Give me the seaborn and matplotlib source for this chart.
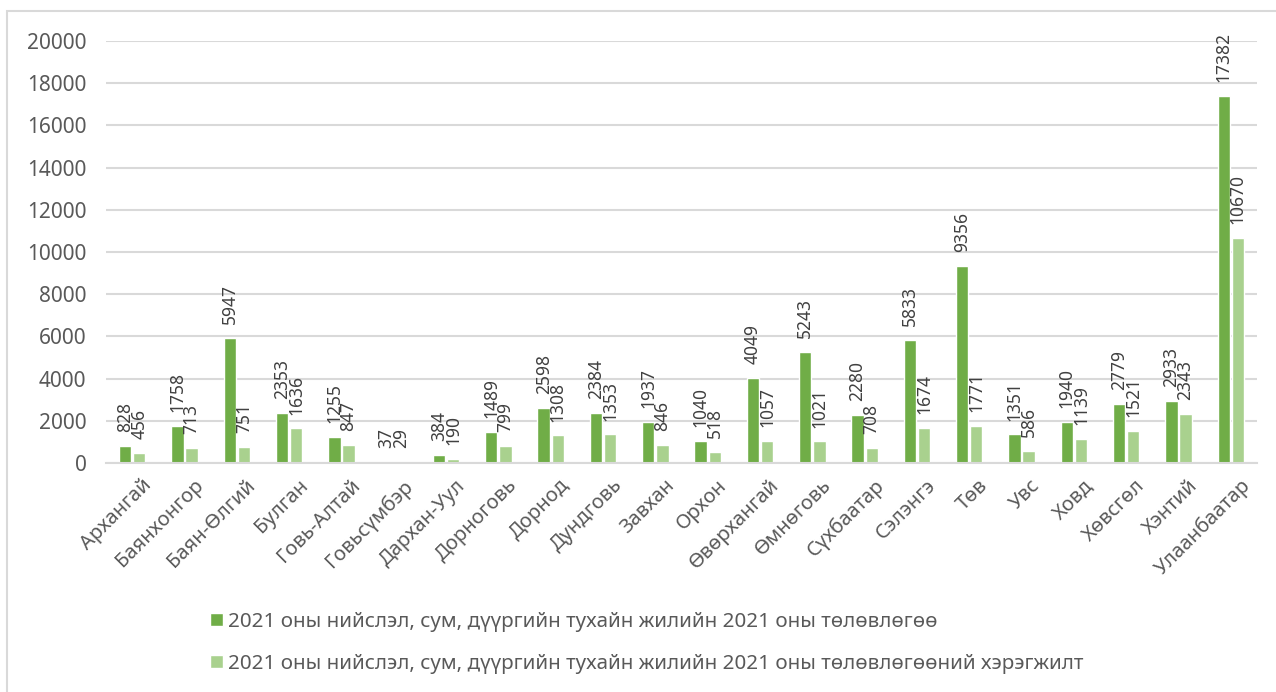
import pandas as pd
import matplotlib.pyplot as plt
import matplotlib.transforms as mtransforms
import seaborn as sns
from matplotlib.patches import Rectangle

aimags = ['Архангай', 'Баянхонгор', 'Баян-Өлгий', 'Булган', 'Говь-Алтай', 'Говьсүмбэр',
          'Дархан-Уул', 'Дорноговь', 'Дорнод', 'Дундговь', 'Завхан', 'Орхон',
          'Өвөрхангай', 'Өмнөговь', 'Сүхбаатар', 'Сэлэнгэ', 'Төв', 'Увс',
          'Ховд', 'Хөвсгөл', 'Хэнтий', 'Улаанбаатар']
plan = [828, 1758, 5947, 2353, 1255, 37, 384, 1489, 2598, 2384, 1937, 1040,
        4049, 5243, 2280, 5833, 9356, 1351, 1940, 2779, 2933, 17382]
done = [456, 713, 751, 1636, 847, 29, 190, 799, 1308, 1353, 846, 518,
        1057, 1021, 708, 1674, 1771, 586, 1139, 1521, 2343, 10670]
series = ['2021 оны нийслэл, сум, дүүргийн тухайн жилийн 2021 оны төлөвлөгөө',
          '2021 оны нийслэл, сум, дүүргийн тухайн жилийн 2021 оны төлөвлөгөөний хэрэгжилт']
colors = ['#70AD47', '#A9D18E']

df = pd.DataFrame({
    'aimag': aimags * 2,
    'value': plan + done,
    'series': [series[0]] * len(aimags) + [series[1]] * len(aimags),
})

sns.set_style('white')
plt.rcParams['font.family'] = ['Noto Sans', 'DejaVu Sans']

W, H = 1276, 692
fig = plt.figure(figsize=(W / 100, H / 100), dpi=100)
# plot area in pixels: x 106..1257, y 41..463
ax = fig.add_axes([106 / W, 1 - 463 / H, (1257 - 106) / W, (463 - 41) / H])

sns.barplot(data=df, x='aimag', y='value', hue='series', palette=colors,
            saturation=1, width=0.54, gap=0.13, ax=ax, legend=True)

for cont in ax.containers:
    ax.bar_label(cont, rotation=90, padding=10, fontsize=12.5, color='#404040')

ax.set_ylim(0, 20000)
ax.set_yticks(range(0, 20001, 2000))
ax.set_xlim(-0.5, len(aimags) - 0.5)
ax.yaxis.grid(True, color='#D9D9D9', linewidth=1.5)
ax.set_axisbelow(True)
for s in ['top', 'right', 'left']:
    ax.spines[s].set_visible(False)
ax.spines['bottom'].set_color('#D9D9D9')
ax.spines['bottom'].set_linewidth(1.5)
ax.tick_params(axis='y', labelsize=15, labelcolor='#595959', length=0, pad=14)
ax.tick_params(axis='x', labelsize=14.5, labelcolor='#595959', length=0, pad=9)
offset = mtransforms.ScaledTranslation(9 / 100, 0, fig.dpi_scale_trans)
for lbl in ax.get_xticklabels():
    lbl.set_rotation(45)
    lbl.set_ha('right')
    lbl.set_rotation_mode('anchor')
    lbl.set_transform(lbl.get_transform() + offset)
ax.set_xlabel('')
ax.set_ylabel('')

ax.legend(loc='center left', bbox_to_anchor=(200 / W, 1 - 643 / H),
          bbox_transform=fig.transFigure, frameon=False, borderpad=0,
          fontsize=14.8, labelcolor='#595959', handlelength=0.6, handleheight=0.6,
          handletextpad=0.25, labelspacing=1.05)

fig.patches.append(Rectangle((7 / W, -0.1), 1.2, 1 - 11 / H + 0.1,
                             transform=fig.transFigure, fill=False,
                             edgecolor='#D9D9D9', linewidth=1.5))

fig.savefig('out.png', dpi=100)
